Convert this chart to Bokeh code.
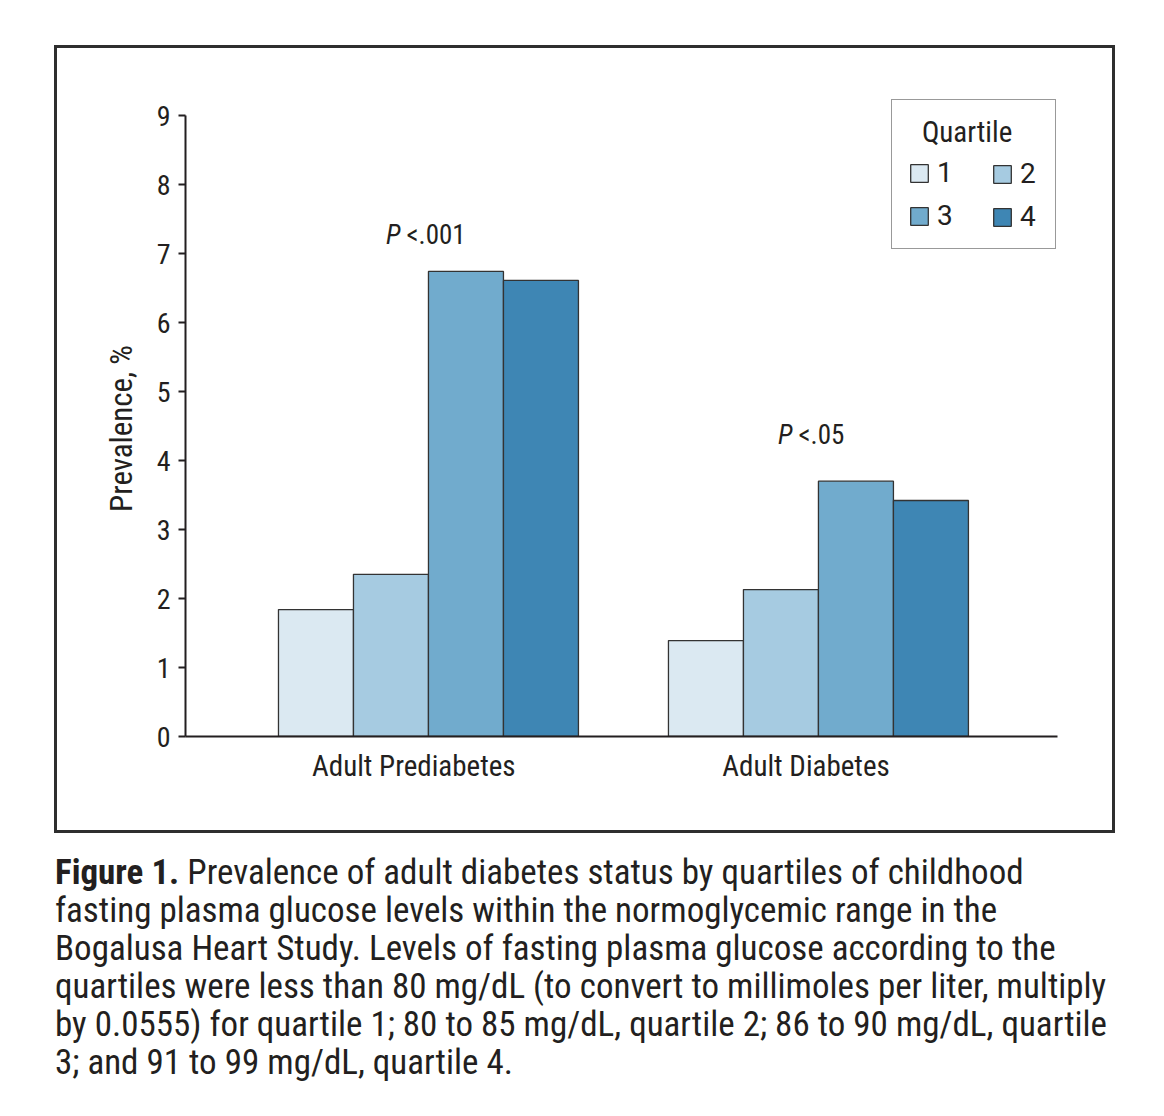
from bokeh.plotting import figure
from bokeh.models import ColumnDataSource, FactorRange, Legend, LegendItem, Div
from bokeh.transform import dodge
from bokeh.layouts import column
from bokeh.embed import file_html
from bokeh.resources import INLINE
from bokeh.core.properties import value

# ---------------- data ----------------
categories = ["Adult Prediabetes", "Adult Diabetes"]
quartiles = ["1", "2", "3", "4"]
quartile_1 = [1.84, 1.39]
quartile_2 = [2.35, 2.13]
quartile_3 = [6.74, 3.70]
quartile_4 = [6.61, 3.42]
p_values = ["<.001", "<.05"]
p_label_y = [7.27, 4.37]
y_ticks = [0, 1, 2, 3, 4, 5, 6, 7, 8, 9]
legend_title = "Quartile"

caption_lines = [
    "Prevalence of adult diabetes status by quartiles of childhood",
    "fasting plasma glucose levels within the normoglycemic range in the",
    "Bogalusa Heart Study. Levels of fasting plasma glucose according to the",
    "quartiles were less than 80 mg/dL (to convert to millimoles per liter, multiply",
    "by 0.0555) for quartile 1; 80 to 85 mg/dL, quartile 2; 86 to 90 mg/dL, quartile",
    "3; and 91 to 99 mg/dL, quartile 4.",
]

# ---------------- style ----------------
FONT = "Roboto"
INK = "#231f20"
colors = ["#dbe9f2", "#a6cbe1", "#71abcd", "#3e86b4"]
bar_w = 0.1923
shift = 0.005
p_offsets = [-24, -22]

src = ColumnDataSource(dict(cat=categories, q1=quartile_1, q2=quartile_2,
                            q3=quartile_3, q4=quartile_4,
                            pv=p_values, py=p_label_y, pofs=p_offsets,
                            pofs2=[o + 4 for o in p_offsets]))

p = figure(x_range=FactorRange(*categories, range_padding=0.118),
           y_range=(0, 9 + 16 / 69),
           frame_width=872, frame_height=637,
           min_border_left=128, min_border_right=55,
           min_border_top=51, min_border_bottom=94,
           output_backend="svg", toolbar_location=None,
           margin=(48, 0, 0, 57),
           styles={"outline": "3px solid #2e2e2e", "font-stretch": "85%"})
p.outline_line_color = None
p.xgrid.visible = False
p.ygrid.visible = False
p.background_fill_color = "white"
p.border_fill_color = "white"

cols = ["q1", "q2", "q3", "q4"]
renderers = []
for i, (c, col) in enumerate(zip(colors, cols)):
    off = (i - 1.5) * bar_w + shift
    r = p.vbar(x=dodge("cat", off, range=p.x_range), top=col, width=bar_w,
               source=src, fill_color=c, line_color="#333333", line_width=1.3)
    renderers.append(r)

# P-value labels
p.text(x="cat", y="py", text=value("P"), source=src, x_offset="pofs",
       text_align="right", text_baseline="middle",
       text_font=value(FONT), text_font_size="27px", text_font_style="italic",
       text_color=INK)
p.text(x="cat", y="py", text="pv", source=src, x_offset="pofs2",
       text_align="left", text_baseline="middle",
       text_font=value(FONT), text_font_size="27px", text_color=INK)

# centred legend title (legend box below is transparent so it shows through)
title_src = ColumnDataSource(dict(x=[categories[1]], y=[8.754], t=[legend_title]))
p.text(x="x", y="y", text="t", source=title_src, x_offset=156,
       text_align="center", text_baseline="middle",
       text_font=value(FONT), text_font_size="29px", text_color=INK)

# axes
p.yaxis.ticker = y_ticks
p.yaxis.bounds = (0, 9)
p.yaxis.axis_label = "Prevalence, %"
for ax in (p.xaxis[0], p.yaxis[0]):
    ax.axis_line_width = 2
    ax.axis_line_color = INK
    ax.major_tick_line_color = INK
    ax.major_tick_line_width = 2
    ax.minor_tick_line_color = None
    ax.major_label_text_font = FONT
    ax.major_label_text_font_size = "28px"
    ax.major_label_text_color = INK
    ax.axis_label_text_font = FONT
    ax.axis_label_text_font_size = "31px"
    ax.axis_label_text_font_style = "normal"
    ax.axis_label_text_color = INK
p.yaxis.major_tick_out = 7
p.yaxis.major_tick_in = 0
p.yaxis.major_label_standoff = 6
p.yaxis.axis_label_standoff = 14
p.xaxis.major_tick_out = 0
p.xaxis.major_tick_in = 0
p.xaxis.major_label_text_font_size = "29px"
p.xaxis.major_label_standoff = 12

# legends (two columns built from two legends)
common = dict(glyph_width=22, glyph_height=22, label_standoff=7,
              label_text_font=FONT, label_text_font_size="28px",
              label_text_color=INK, spacing=10, padding=16, margin=0)
leg_a = Legend(items=[LegendItem(label=quartiles[0], renderers=[renderers[0]]),
                      LegendItem(label=quartiles[2], renderers=[renderers[2]])],
               title="\u00a0", title_text_font=FONT, title_text_font_size="29px",
               title_text_font_style="normal", title_text_color=INK,
               title_standoff=6, label_width=102,
               border_line_color="#333333", border_line_width=1.5,
               background_fill_alpha=0,
               location=(706, 487), **common)
leg_b = Legend(items=[LegendItem(label=quartiles[1], renderers=[renderers[1]]),
                      LegendItem(label=quartiles[3], renderers=[renderers[3]])],
               border_line_alpha=0, background_fill_alpha=0,
               location=(790, 487), **common)
p.add_layout(leg_a)
p.add_layout(leg_b)

caption_html = (
    f'<div style="font-family:\'{FONT}\'; font-size:35px; line-height:38px; '
    f'font-stretch:83.5%; color:{INK}; white-space:nowrap;">'
    f'<b>Figure 1.</b> ' + "<br>".join(caption_lines) + '</div>'
)
cap = Div(text=caption_html, width=1100, height=240, margin=(24, 0, 0, 55))

layout = column(p, cap, spacing=0)
open("out.html", "w").write(file_html(layout, INLINE))
